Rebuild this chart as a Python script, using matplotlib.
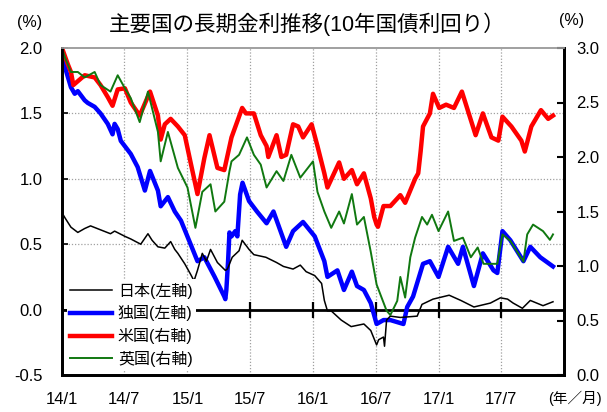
import matplotlib
matplotlib.use("Agg")
import matplotlib.pyplot as plt
import pandas as pd

plt.rcParams['font.family'] = ['Liberation Sans', 'Noto Sans CJK JP', 'DejaVu Sans']

# ---- 10-year government bond yields (%) ----
jp_dates = ["2014-01-01", "2014-01-10", "2014-01-27", "2014-02-16", "2014-03-08", "2014-03-25",
            "2014-04-23", "2014-05-22", "2014-06-03", "2014-07-03", "2014-07-20", "2014-08-18",
            "2014-09-08", "2014-09-20", "2014-10-07", "2014-10-27", "2014-11-13", "2014-11-25",
            "2014-12-04", "2014-12-24", "2015-01-10", "2015-01-20", "2015-01-30", "2015-02-13",
            "2015-02-25", "2015-03-09", "2015-03-29", "2015-04-21", "2015-04-27", "2015-05-11",
            "2015-05-31", "2015-06-09", "2015-06-29", "2015-07-13", "2015-08-17", "2015-09-17",
            "2015-10-07", "2015-11-04", "2015-11-25", "2015-12-12", "2016-01-06", "2016-01-26",
            "2016-02-03", "2016-02-12", "2016-02-23", "2016-03-23", "2016-04-21", "2016-05-28",
            "2016-06-17", "2016-07-04", "2016-07-10", "2016-07-24", "2016-07-27", "2016-08-02",
            "2016-08-13", "2016-09-11", "2016-10-30", "2016-11-13", "2016-12-15", "2017-01-31",
            "2017-03-06", "2017-04-13", "2017-05-31", "2017-06-29", "2017-07-20", "2017-08-05",
            "2017-09-01", "2017-09-24", "2017-10-31", "2017-11-29"]
jp_vals = [0.74, 0.70, 0.63, 0.59, 0.62, 0.64,
           0.61, 0.58, 0.60, 0.56, 0.54, 0.50,
           0.58, 0.53, 0.48, 0.47, 0.52, 0.46,
           0.43, 0.35, 0.27, 0.22, 0.30, 0.43,
           0.37, 0.46, 0.36, 0.30, 0.31, 0.40,
           0.45, 0.53, 0.46, 0.42, 0.40, 0.36,
           0.33, 0.31, 0.34, 0.29, 0.26, 0.20,
           0.07, -0.01, -0.01, -0.08, -0.13, -0.11,
           -0.16, -0.27, -0.23, -0.21, -0.28, -0.08,
           -0.05, -0.06, -0.05, 0.04, 0.08, 0.11,
           0.07, 0.02, 0.05, 0.09, 0.08, 0.05,
           0.01, 0.07, 0.03, 0.06]

de_dates = ["2014-01-01", "2014-01-10", "2014-01-27", "2014-02-07", "2014-02-16", "2014-03-08",
            "2014-03-17", "2014-04-06", "2014-04-23", "2014-05-14", "2014-05-28", "2014-06-03",
            "2014-06-12", "2014-06-21", "2014-07-20", "2014-08-09", "2014-08-30", "2014-09-14",
            "2014-10-07", "2014-10-15", "2014-11-05", "2014-11-25", "2014-12-13", "2015-01-10",
            "2015-01-30", "2015-02-19", "2015-03-21", "2015-04-18", "2015-04-21", "2015-04-24",
            "2015-04-29", "2015-05-03", "2015-05-09", "2015-05-20", "2015-05-26", "2015-06-03",
            "2015-06-10", "2015-06-29", "2015-07-22", "2015-08-19", "2015-09-08", "2015-10-15",
            "2015-11-04", "2015-12-03", "2016-01-06", "2016-02-03", "2016-02-12", "2016-03-12",
            "2016-03-31", "2016-04-23", "2016-05-08", "2016-05-28", "2016-06-17", "2016-07-04",
            "2016-07-24", "2016-08-13", "2016-09-20", "2016-10-01", "2016-10-18", "2016-11-16",
            "2016-12-06", "2016-12-31", "2017-01-28", "2017-02-26", "2017-03-12", "2017-04-13",
            "2017-05-09", "2017-06-09", "2017-06-20", "2017-07-05", "2017-07-28", "2017-09-04",
            "2017-09-24", "2017-10-23", "2017-11-29"]
de_vals = [1.93, 1.85, 1.70, 1.65, 1.67, 1.60,
           1.58, 1.55, 1.50, 1.42, 1.34, 1.42,
           1.38, 1.29, 1.19, 1.09, 0.91, 1.06,
           0.91, 0.79, 0.86, 0.75, 0.68, 0.50,
           0.37, 0.40, 0.25, 0.10, 0.08, 0.15,
           0.37, 0.59, 0.56, 0.60, 0.56, 0.88,
           0.97, 0.83, 0.75, 0.66, 0.75, 0.48,
           0.60, 0.67, 0.56, 0.37, 0.25, 0.30,
           0.15, 0.29, 0.18, 0.15, 0.05, -0.11,
           -0.08, -0.08, -0.11, 0.02, 0.10, 0.35,
           0.37, 0.25, 0.48, 0.35, 0.48, 0.18,
           0.43, 0.30, 0.28, 0.60, 0.53, 0.37,
           0.48, 0.40, 0.33]

us_dates = ["2014-01-01", "2014-01-18", "2014-01-27", "2014-02-03", "2014-03-08", "2014-04-06",
            "2014-04-23", "2014-05-14", "2014-05-28", "2014-06-12", "2014-07-03", "2014-07-20",
            "2014-08-15", "2014-09-14", "2014-10-07", "2014-10-15", "2014-10-27", "2014-11-13",
            "2014-12-04", "2014-12-24", "2015-01-10", "2015-01-30", "2015-02-19", "2015-03-06",
            "2015-03-29", "2015-04-18", "2015-05-09", "2015-06-09", "2015-06-20", "2015-07-13",
            "2015-08-02", "2015-08-19", "2015-08-24", "2015-09-17", "2015-10-01", "2015-10-15",
            "2015-11-04", "2015-11-19", "2015-12-03", "2015-12-28", "2016-01-14", "2016-02-03",
            "2016-02-12", "2016-03-17", "2016-03-31", "2016-04-23", "2016-05-08", "2016-05-28",
            "2016-06-17", "2016-06-27", "2016-07-04", "2016-07-08", "2016-07-24", "2016-08-13",
            "2016-09-11", "2016-09-25", "2016-10-24", "2016-11-02", "2016-11-09", "2016-11-16",
            "2016-12-06", "2016-12-15", "2017-01-02", "2017-01-22", "2017-02-14", "2017-03-09",
            "2017-03-29", "2017-04-18", "2017-05-09", "2017-06-03", "2017-06-23", "2017-07-05",
            "2017-07-31", "2017-08-29", "2017-09-08", "2017-09-27", "2017-10-25", "2017-11-15",
            "2017-11-29"]
us_vals = [3.00, 2.85, 2.78, 2.66, 2.75, 2.73,
           2.66, 2.55, 2.47, 2.62, 2.63, 2.50,
           2.38, 2.60, 2.38, 2.16, 2.30, 2.35,
           2.28, 2.20, 1.95, 1.66, 1.99, 2.20,
           1.90, 1.88, 2.18, 2.45, 2.40, 2.40,
           2.20, 2.10, 2.00, 2.20, 2.00, 2.02,
           2.30, 2.28, 2.18, 2.30, 2.10, 1.85,
           1.72, 1.95, 1.80, 1.88, 1.75, 1.85,
           1.62, 1.45, 1.38, 1.36, 1.55, 1.55,
           1.65, 1.58, 1.80, 1.85, 2.05, 2.28,
           2.40, 2.58, 2.45, 2.48, 2.45, 2.60,
           2.40, 2.20, 2.40, 2.18, 2.15, 2.37,
           2.28, 2.15, 2.05, 2.28, 2.43, 2.35,
           2.38]

uk_dates = ["2014-01-01", "2014-01-10", "2014-01-27", "2014-02-16", "2014-03-08", "2014-04-06",
            "2014-04-23", "2014-05-22", "2014-06-12", "2014-07-03", "2014-07-20", "2014-08-15",
            "2014-09-08", "2014-10-07", "2014-10-15", "2014-11-05", "2014-12-04", "2015-01-01",
            "2015-01-24", "2015-02-13", "2015-03-09", "2015-03-23", "2015-04-18", "2015-05-03",
            "2015-05-09", "2015-05-31", "2015-06-23", "2015-07-13", "2015-08-02", "2015-08-19",
            "2015-09-17", "2015-10-07", "2015-10-30", "2015-11-25", "2016-01-01", "2016-01-14",
            "2016-02-03", "2016-02-23", "2016-03-17", "2016-03-31", "2016-04-23", "2016-05-08",
            "2016-05-28", "2016-06-17", "2016-07-04", "2016-08-02", "2016-08-13", "2016-09-02",
            "2016-09-11", "2016-09-25", "2016-10-10", "2016-10-24", "2016-11-13", "2016-11-28",
            "2016-12-12", "2016-12-31", "2017-01-28", "2017-02-14", "2017-03-12", "2017-04-04",
            "2017-04-24", "2017-05-11", "2017-06-20", "2017-07-05", "2017-07-28", "2017-09-04",
            "2017-09-15", "2017-10-02", "2017-10-31", "2017-11-20", "2017-11-29"]
uk_vals = [3.00, 2.91, 2.78, 2.78, 2.73, 2.78,
           2.66, 2.60, 2.75, 2.63, 2.54, 2.32,
           2.60, 2.23, 1.96, 2.23, 1.90, 1.72,
           1.35, 1.68, 1.75, 1.50, 1.59, 1.87,
           1.96, 2.02, 2.18, 2.02, 1.93, 1.72,
           1.87, 1.78, 2.02, 1.81, 1.96, 1.68,
           1.50, 1.35, 1.50, 1.39, 1.66, 1.38,
           1.45, 1.13, 0.83, 0.59, 0.55, 0.68,
           0.90, 0.71, 1.08, 1.26, 1.45, 1.38,
           1.47, 1.32, 1.50, 1.23, 1.26, 1.08,
           1.17, 1.02, 1.02, 1.29, 1.23, 1.04,
           1.29, 1.38, 1.32, 1.24, 1.29]

series_labels = ["日本(左軸)", "独国(左軸)", "米国(右軸)", "英国(右軸)"]
tick_dates = ["2014-01-01", "2014-07-01", "2015-01-01", "2015-07-01", "2016-01-01",
              "2016-07-01", "2017-01-01", "2017-07-01"]
tick_labels = ["14/1", "14/7", "15/1", "15/7", "16/1", "16/7", "17/1", "17/7"]
left_ticks = [-0.5, 0.0, 0.5, 1.0, 1.5, 2.0]
right_ticks = [0.0, 0.5, 1.0, 1.5, 2.0, 2.5, 3.0]

fig = plt.figure(figsize=(6.07, 4.12), dpi=100)
ax = fig.add_axes([62 / 607, 1 - 375 / 412, (564 - 62) / 607, (375 - 48) / 412])
ax2 = ax.twinx()

tdates = pd.to_datetime(tick_dates)

# dotted grid
for d in tdates[1:]:
    ax.axvline(d, color="#a0a0a0", lw=0.9, ls=(0, (1, 1.5)), zorder=0)
for v in [0.5, 1.0, 1.5]:
    ax.axhline(v, color="#a0a0a0", lw=0.9, ls=(0, (1, 1.5)), zorder=0)

# zero line with crossing tick marks
ax.axhline(0, color="black", lw=2.0, zorder=1)
ax.plot(tdates, [0] * len(tdates), ls="none", marker="|", ms=11, mew=1.6,
        color="black", zorder=1)

l_de, = ax.plot(pd.to_datetime(de_dates), de_vals, color="#0000ff", lw=3.2,
                solid_joinstyle="round", zorder=2)
l_jp, = ax.plot(pd.to_datetime(jp_dates), jp_vals, color="black", lw=1.1, zorder=2.2)
l_us, = ax2.plot(pd.to_datetime(us_dates), us_vals, color="#ff0000", lw=3.2,
                 solid_joinstyle="round", zorder=2)
l_uk, = ax2.plot(pd.to_datetime(uk_dates), uk_vals, color="#107810", lw=1.4, zorder=2.2)

ax.set_xlim(pd.Timestamp("2014-01-01"), pd.Timestamp("2017-12-31"))
ax.set_ylim(-0.5, 2.0)
ax2.set_ylim(0.0, 3.0)

ax.set_xticks(tdates)
ax.set_xticklabels(tick_labels)
ax.tick_params(axis="x", length=0, pad=12, labelsize=12)
ax.set_yticks(left_ticks)
ax.set_yticklabels([f"{v:.1f}" for v in left_ticks])
ax.tick_params(axis="y", direction="in", length=4, width=1.2, pad=14, labelsize=12)
ax2.set_yticks(right_ticks)
ax2.set_yticklabels([f"{v:.1f}" for v in right_ticks])
ax2.tick_params(axis="y", direction="in", length=5, width=1.5, pad=9, labelsize=12)

for a in (ax, ax2):
    a.spines["left"].set_linewidth(2.0)
    a.spines["right"].set_linewidth(2.0)
    a.spines["bottom"].set_linewidth(2.0)
    a.spines["top"].set_color("#a0a0a0")
    a.spines["top"].set_linewidth(1.2)

leg = ax2.legend([l_jp, l_de, l_us, l_uk], series_labels, loc="lower left",
                 bbox_to_anchor=(0.0, 0.0), frameon=True, fancybox=False,
                 framealpha=1.0, edgecolor="none", facecolor="white",
                 fontsize=11.5, handlelength=2.6, handletextpad=0.4,
                 labelspacing=0.42, borderpad=0.2, borderaxespad=0.3)
leg.set_zorder(2.4)

fig.text(307 / 607, 1 - 24 / 412, "主要国の長期金利推移(10年国債利回り）", ha="center",
         va="center", fontsize=15.5)
fig.text(30 / 607, 1 - 23 / 412, "(%)", ha="center", va="center", fontsize=11.5)
fig.text(572 / 607, 1 - 20 / 412, "(%)", ha="center", va="center", fontsize=11.5)
fig.text(575 / 607, 1 - 398 / 412, "(年／月)", ha="center", va="center", fontsize=10.5)

fig.savefig("out.png", dpi=100)
